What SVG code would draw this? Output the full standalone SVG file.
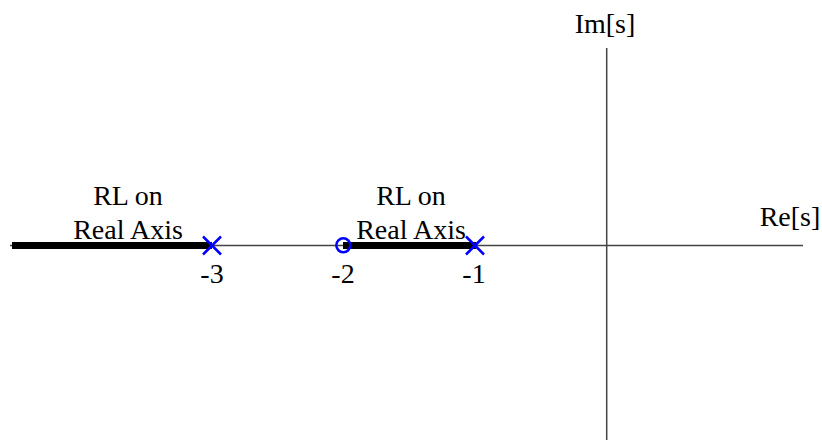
<svg xmlns="http://www.w3.org/2000/svg" width="822" height="443" viewBox="0 0 822 443">
<style>
.t{font-size:28px;fill:#000;text-anchor:middle}
.axis{stroke:#444;stroke-width:1.5;fill:none}
.rl{stroke:#000;stroke-width:7;fill:none}
.pole{stroke:#0000ff;stroke-width:2.5;fill:none}
</style>
<rect width="822" height="443" fill="#fff"/>
<g id="connectors">
<line class="axis" x1="10" y1="245.5" x2="803" y2="245.5"/>
<line class="axis" x1="606.7" y1="48" x2="606.7" y2="440"/>
<line class="rl" x1="12" y1="245.5" x2="212" y2="245.5"/>
<line class="rl" x1="343" y1="245.5" x2="476" y2="245.5"/>
</g>
<g id="pole-3"><path class="pole" d="M203,236.5 L221,254.5 M221,236.5 L203,254.5"/></g>
<g id="zero-2"><circle class="pole" cx="343.3" cy="245.3" r="7"/></g>
<g id="pole-1"><path class="pole" d="M466,236.5 L484,254.5 M484,236.5 L466,254.5"/></g>
<g id="labels" font-family="'Liberation Serif', 'Times New Roman', 'DejaVu Serif', serif">
<text class="t" x="128" y="205">RL on</text>
<text class="t" x="128" y="239">Real Axis</text>
<text class="t" x="411" y="205">RL on</text>
<text class="t" x="411" y="239">Real Axis</text>
<text class="t" x="212" y="283">-3</text>
<text class="t" x="343" y="283">-2</text>
<text class="t" x="474" y="283">-1</text>
<text class="t" x="605" y="33">Im[s]</text>
<text class="t" x="790" y="226">Re[s]</text>
</g>
</svg>
